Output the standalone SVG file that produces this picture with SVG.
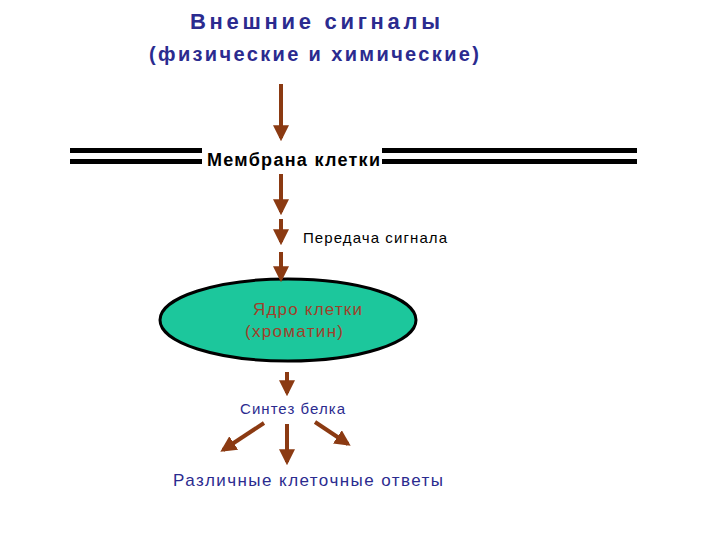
<svg xmlns="http://www.w3.org/2000/svg" width="720" height="540" viewBox="0 0 720 540">
<style>
.a{stroke:#8B3A12;stroke-width:4;fill:none}
.m{fill:#000}
text{font-family:"Liberation Sans",Arial,sans-serif}
.b{fill:#2B2B8F}
</style>
<defs>
<marker id="h" viewBox="0 0 10 10" refX="8" refY="5" markerWidth="4" markerHeight="4" orient="auto" markerUnits="strokeWidth"><path d="M0,0L10,5L0,10z" fill="#8B3A12"/></marker>
</defs>
<rect width="720" height="540" fill="#fff"/>
<g id="title">
<text x="315" y="29" font-size="22" font-weight="bold" text-anchor="middle" class="b" textLength="250">Внешние сигналы</text>
<text x="314" y="61" font-size="20" font-weight="bold" text-anchor="middle" class="b" textLength="330">(физические и химические)</text>
</g>
<g id="membrane">
<rect x="70" y="148" width="132" height="5" class="m"/>
<rect x="70" y="159" width="132" height="5" class="m"/>
<rect x="382" y="148" width="255" height="5" class="m"/>
<rect x="382" y="159" width="255" height="5" class="m"/>
<text x="207" y="166" font-size="18" font-weight="bold" textLength="173">Мембрана клетки</text>
</g>
<g id="transduction">
<text x="303" y="243" font-size="15" textLength="144">Передача сигнала</text>
</g>
<g id="nucleus">
<ellipse cx="288" cy="320" rx="128" ry="41" fill="#1CC79C" stroke="#000" stroke-width="3"/>
<text x="253" y="315" font-size="17" fill="#A0402A" textLength="109">Ядро клетки</text>
<text x="245" y="337" font-size="17" fill="#A0402A" textLength="98">(хроматин)</text>
</g>
<g id="protein">
<text x="240" y="414" font-size="15" class="b" textLength="105">Синтез белка</text>
</g>
<g id="responses">
<text x="173" y="486" font-size="17" class="b" textLength="270">Различные клеточные ответы</text>
</g>
<g id="connectors">
<line x1="281" y1="84" x2="281" y2="138" class="a" marker-end="url(#h)"/>
<line x1="281" y1="174" x2="281" y2="212" class="a" marker-end="url(#h)"/>
<line x1="281" y1="219" x2="281" y2="242" class="a" marker-end="url(#h)"/>
<line x1="281" y1="252" x2="281" y2="279" class="a" marker-end="url(#h)"/>
<line x1="287" y1="372" x2="287" y2="393" class="a" stroke-width="5" marker-end="url(#h)"/>
<line x1="264" y1="423" x2="223" y2="450" class="a" marker-end="url(#h)"/>
<line x1="287" y1="424" x2="287" y2="462" class="a" marker-end="url(#h)"/>
<line x1="315" y1="422" x2="348" y2="444" class="a" marker-end="url(#h)"/>
</g>
</svg>
